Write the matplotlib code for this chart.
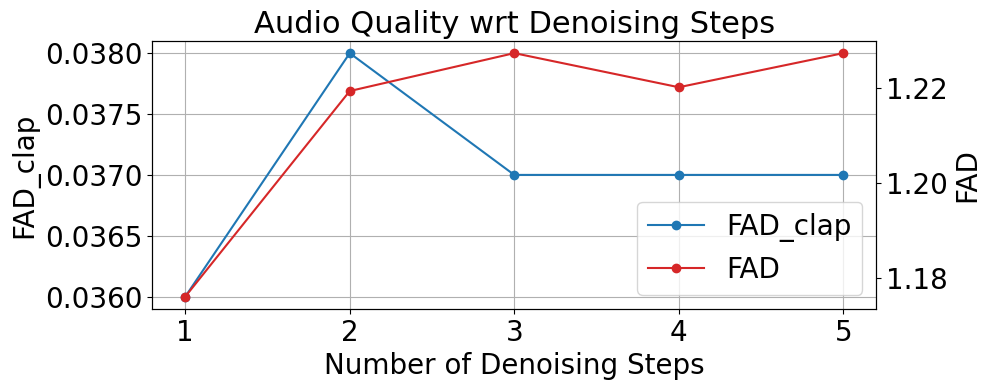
import matplotlib
matplotlib.use("Agg")
import matplotlib.pyplot as plt

steps = [1, 2, 3, 4, 5]
fad_clap = [0.0360, 0.0380, 0.0370, 0.0370, 0.0370]
fad = [1.176, 1.2194, 1.2274, 1.2202, 1.2274]

plt.rcParams['font.size'] = 20

fig, ax1 = plt.subplots(figsize=(9.89, 3.9), dpi=100)
l1, = ax1.plot(steps, fad_clap, 'o-', color='tab:blue', label='FAD_clap')
ax1.set_xlabel('Number of Denoising Steps')
ax1.set_ylabel('FAD_clap')
ax1.set_yticks([0.0360, 0.0365, 0.0370, 0.0375, 0.0380])
ax1.set_xticks(steps)
ax1.grid(True)

ax2 = ax1.twinx()
l2, = ax2.plot(steps, fad, 'o-', color='tab:red', label='FAD')
ax2.set_ylabel('FAD')
ax2.set_yticks([1.18, 1.20, 1.22])

ax2.legend(handles=[l1, l2], loc='lower right')
plt.title('Audio Quality wrt Denoising Steps', fontsize=22)
fig.subplots_adjust(left=0.154, right=0.886, top=0.895, bottom=0.208)
fig.savefig('out.png')
